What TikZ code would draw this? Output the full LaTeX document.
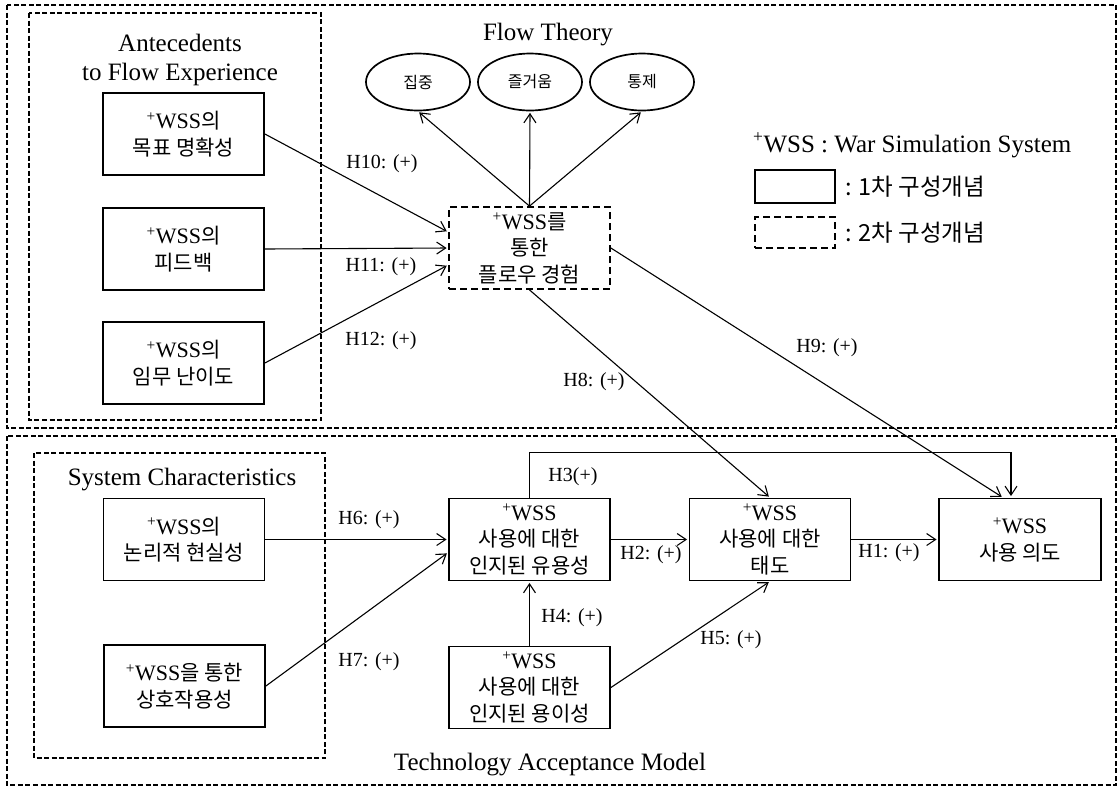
\documentclass[tikz,border=0pt]{standalone}
\usepackage{fontspec}
\setmainfont{Liberation Serif}
\newfontfamily\kr{Noto Sans CJK KR}
\usetikzlibrary{arrows.meta,calc,shapes.geometric}
\newcommand{\ws}{\textsuperscript{+}WSS}
\newcommand{\kt}[1]{{\kr\fontsize{21}{26.5}\selectfont #1}}
\tikzset{
  box/.style={draw, line width=1.8pt, minimum width=161pt, minimum height=82pt, align=center, inner sep=0pt, font=\fontsize{22}{26.5}\selectfont},
  dbox/.style={box, dash pattern=on 7pt off 4pt},
  ell/.style={ellipse, draw, line width=1.7pt, minimum width=104pt, minimum height=57pt, inner sep=0pt, font=\kr\fontsize{16}{18}\selectfont},
  grp/.style={draw, dash pattern=on 5pt off 2.5pt, line width=1.4pt},
  arr/.style={-{Straight Barb[length=9pt,width=12pt]}, line width=1.1pt, shorten >=1.5pt},
  lab/.style={font=\fontsize{20}{22}\selectfont, inner sep=0pt},
  ttl/.style={font=\fontsize{25}{29}\selectfont, align=center, inner sep=0pt},
  krl/.style={font=\kr\fontsize{23.5}{26}\selectfont, inner sep=0pt}
}
\begin{document}
\begin{tikzpicture}[x=1pt,y=-1pt]
\useasboundingbox[fill=white] (0,0) rectangle (1120,788);
% groups
\draw[grp] (7,5) rectangle (1116,428);
\draw[grp] (29,13) rectangle (321,420);
\draw[grp] (7,436) rectangle (1116,785);
\draw[grp] (34,453) rectangle (325,758);
% titles
\node[ttl] (t1) at (180,60) {Antecedents\\to Flow Experience};
\node[ttl, anchor=base] (t2) at (548,40) {Flow Theory};
\node[ttl, anchor=base] (t3) at (182,485) {System Characteristics};
\node[ttl, anchor=base] (t4) at (550,770) {Technology Acceptance Model};
% legend
\node[ttl, anchor=base west] (lg) at (753,152) {\ws{} : War Simulation System};
\node[box, minimum width=80pt, minimum height=33pt] (l1) at (795,186.5) {};
\node[dbox, minimum width=80pt, minimum height=31pt] (l2) at (795,232.5) {};
\node[krl, anchor=west] (l1t) at ($(l1.east)+(9pt,0pt)$) {: 1차 구성개념};
\node[krl, anchor=west] (l2t) at ($(l2.east)+(9pt,0pt)$) {: 2차 구성개념};
% nodes
\node[box] (a1) at (183.5,134) {\ws\kt{의}\\\kt{목표 명확성}};
\node[box] (a2) at (183.5,249) {\ws\kt{의}\\\kt{피드백}};
\node[box] (a3) at (183.5,363) {\ws\kt{의}\\\kt{임무 난이도}};
\node[dbox] (fl) at (529.5,248) {\ws\kt{를}\\\kt{통한}\\\kt{플로우 경험}};
\node[ell] (e1) at (418,82) {집중};
\node[ell] (e2) at (530,82) {즐거움};
\node[ell] (e3) at (642,82) {통제};
\node[box] (s1) at (184,539.5) {\ws\kt{의}\\\kt{논리적 현실성}};
\node[box] (s2) at (184.5,686) {\ws\kt{을 통한}\\\kt{상호작용성}};
\node[box] (pu) at (529.5,539.5) {\ws\\\kt{사용에 대한}\\\kt{인지된 유용성}};
\node[box] (pe) at (529.5,687.5) {\ws\\\kt{사용에 대한}\\\kt{인지된 용이성}};
\node[box] (at) at (770,539.5) {\ws\\\kt{사용에 대한}\\\kt{태도}};
\node[box, minimum width=162pt] (bi) at (1020,539.5) {\ws\\\kt{사용 의도}};
% connectors
\draw[arr] (fl.north) -- (e1.south);
\draw[arr] (fl.north) -- (e2.south);
\draw[arr] (fl.north) -- (e3.south);
\draw[arr] (a1.east) -- ($(fl.west)+(0pt,16pt)$);
\draw[arr] (a2.east) -- (fl.west);
\draw[arr] (a3.east) -- ($(fl.west)+(0pt,-17pt)$);
\draw[arr] (fl.east) -- ($(bi.north)+(-17pt,0pt)$);
\draw[arr] (fl.south) -- (at.north);
\draw[arr] (pu.north) -- ++(0,-45) -| ($(bi.north)+(-9pt,0pt)$);
\draw[arr] (s1.east) -- (pu.west);
\draw[arr] (s2.east) -- ($(pu.west)+(0pt,-13pt)$);
\draw[arr] (pu.east) -- (at.west);
\draw[arr] (at.east) -- (bi.west);
\draw[arr] (pe.north) -- (pu.south);
\draw[arr] (pe.east) -- (at.south);
% labels
\node[lab] (h10) at (382,164) {H10: (+)};
\node[lab] (h11) at (381,267) {H11: (+)};
\node[lab] (h12) at (381,341) {H12: (+)};
\node[lab] (h9) at (827,348) {H9: (+)};
\node[lab] (h8) at (594,382) {H8: (+)};
\node[lab] (h3) at (573,477) {H3(+)};
\node[lab] (h6) at (369,520) {H6: (+)};
\node[lab] (h7) at (369,662) {H7: (+)};
\node[lab] (h2) at (651,555) {H2: (+)};
\node[lab] (h1) at (889,553) {H1: (+)};
\node[lab] (h4) at (572,618) {H4: (+)};
\node[lab] (h5) at (731,640) {H5: (+)};
\end{tikzpicture}
\end{document}
